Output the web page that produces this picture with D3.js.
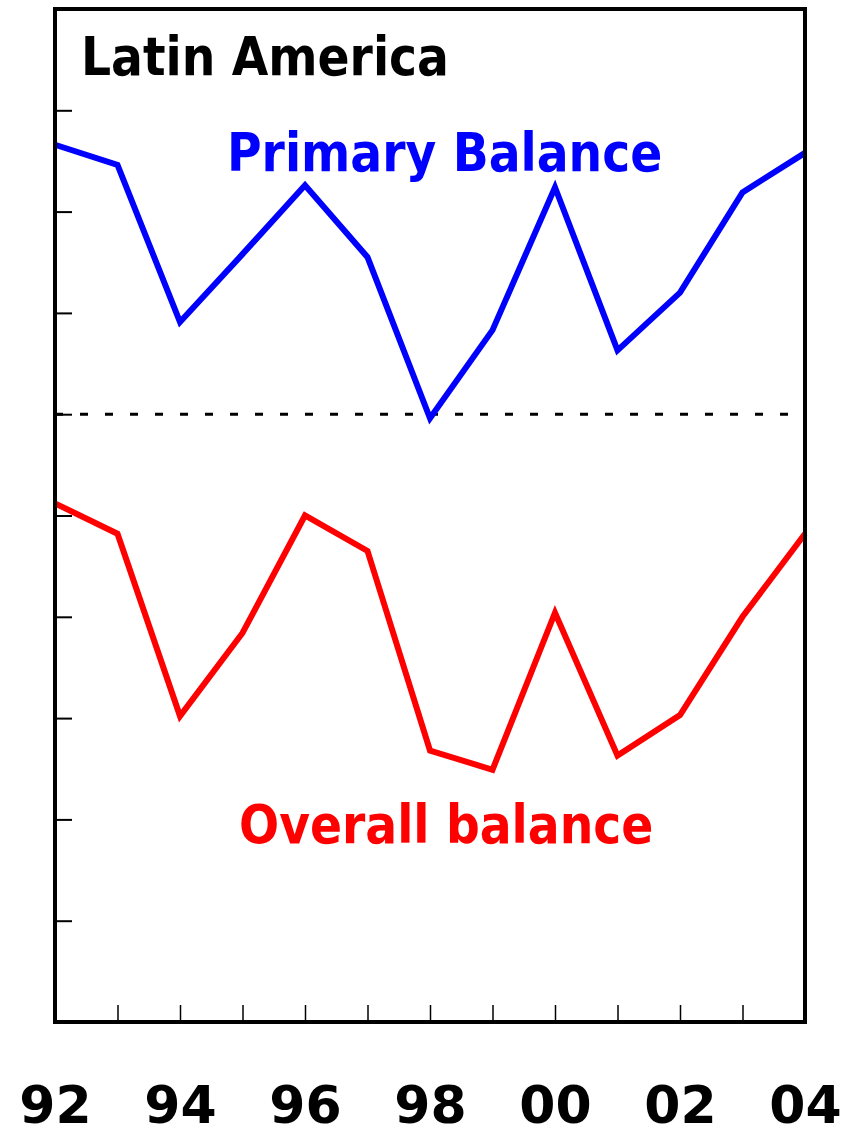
<!DOCTYPE html>
<html>
<head>
<meta charset="utf-8">
<script src="https://cdn.jsdelivr.net/npm/d3@7"></script>
<style>
  body { margin: 0; background: #fff; }
  svg { display: block; }
  text { font-family: "DejaVu Sans Condensed", "DejaVu Sans", Verdana, sans-serif; font-weight: bold; }
</style>
</head>
<body>
<script>
// data (per cent of GDP, year as 2-digit label)
var years = [1992, 1993, 1994, 1995, 1996, 1997, 1998, 1999, 2000, 2001, 2002, 2003, 2004];
var primaryBalance = [2.66, 2.46, 0.91, 1.58, 2.26, 1.55, -0.04, 0.83, 2.24, 0.63, 1.20, 2.19, 2.58];
var overallBalance = [-0.88, -1.18, -2.98, -2.16, -1.00, -1.35, -3.32, -3.51, -1.96, -3.37, -2.97, -2.00, -1.18];
var yTicks = [-5, -4, -3, -2, -1, 0, 1, 2, 3];
var xMinorTicks = [1993, 1994, 1995, 1996, 1997, 1998, 1999, 2000, 2001, 2002, 2003];
var xLabels = [1992, 1994, 1996, 1998, 2000, 2002, 2004];

var margin = { top: 9, right: 58, bottom: 108, left: 55 };
var W = 863, H = 1130;
var width = W - margin.left - margin.right;
var height = H - margin.top - margin.bottom;

var svg = d3.select("body")
    .append("svg")
    .attr("width", W)
    .attr("height", H);

var g = svg.append("g")
    .attr("transform", "translate(" + margin.left + "," + margin.top + ")");

var x = d3.scaleLinear()
    .domain([1992, 2004])
    .range([0, width]);

var y = d3.scaleLinear()
    .domain([-6, 4])
    .range([height, 0]);

// zero line
g.append("line")
    .attr("x1", 0)
    .attr("x2", width)
    .attr("y1", y(0))
    .attr("y2", y(0))
    .attr("stroke", "black")
    .attr("stroke-width", 3)
    .attr("stroke-dasharray", "8,17")

// left ticks (inside, no labels)
var yAxis = g.append("g")
    .call(d3.axisRight(y).tickValues(yTicks).tickSize(17).tickFormat(""))
yAxis.select(".domain").remove();
yAxis.selectAll("line").attr("stroke-width", 2);

// bottom ticks (pointing up inside the frame)
var xAxis = g.append("g")
    .attr("transform", "translate(0," + height + ")")
    .call(d3.axisTop(x).tickValues(xMinorTicks).tickSize(17).tickFormat(""))
xAxis.select(".domain").remove();
xAxis.selectAll("line").attr("stroke-width", 1.5);

// year labels well below the frame
var xLab = g.append("g")
    .attr("transform", "translate(0," + height + ")")
    .call(d3.axisBottom(x).tickValues(xLabels).tickSize(0).tickPadding(64)
        .tickFormat(function(d) { return d3.format("02d")(d % 100); }))
xLab.select(".domain").remove();
xLab.selectAll("text")
    .style("font-size", "52px")
    .style("font-family", "'DejaVu Sans', Verdana, sans-serif")
    .style("font-weight", "bold")
    .attr("fill", "black")
    .attr("dy", "0.71em");

var line = d3.line()
    .x(function(d, i) { return x(years[i]); })
    .y(function(d) { return y(d); });

g.append("path")
    .datum(primaryBalance)
    .attr("fill", "none")
    .attr("stroke", "#0000ff")
    .attr("stroke-width", 6)
    .attr("stroke-linejoin", "miter")
    .attr("d", line);

g.append("path")
    .datum(overallBalance)
    .attr("fill", "none")
    .attr("stroke", "#ff0000")
    .attr("stroke-width", 6)
    .attr("stroke-linejoin", "miter")
    .attr("d", line);

// frame
g.append("rect")
    .attr("width", width)
    .attr("height", height)
    .attr("fill", "none")
    .attr("stroke", "black")
    .attr("stroke-width", 4);

// labels
svg.append("text")
    .attr("x", 81)
    .attr("y", 75)
    .attr("font-size", 52.5)
    .attr("fill", "black")
    .text("Latin America");

svg.append("text")
    .attr("x", 227)
    .attr("y", 171)
    .attr("font-size", 52.5)
    .attr("fill", "#0000ff")
    .text("Primary Balance");

svg.append("text")
    .attr("x", 239)
    .attr("y", 843)
    .attr("font-size", 52.5)
    .attr("fill", "#ff0000")
    .text("Overall balance");
</script>
</body>
</html>
